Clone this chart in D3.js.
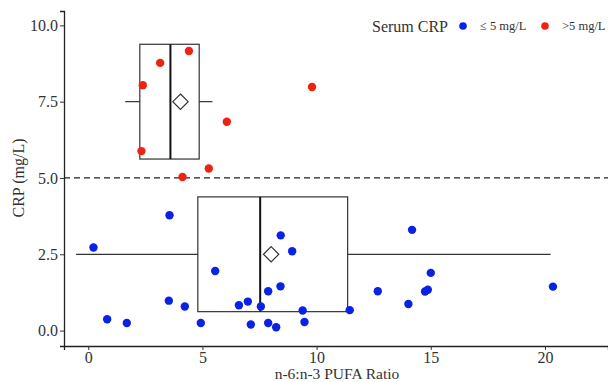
<!DOCTYPE html>
<html>
<head>
<meta charset="utf-8">
<script src="https://cdn.jsdelivr.net/npm/d3@7"></script>
<style>
  body { margin: 0; background: #fff; }
</style>
</head>
<body>
<div id="chart"></div>
<script>
// >5 mg/L group
const highRatio = [2.39, 3.15, 4.41, 2.33, 4.13, 5.28, 6.07, 9.80];
const highCRP   = [8.04, 8.77, 9.16, 5.88, 5.03, 5.31, 6.84, 7.98];

// <=5 mg/L group
const lowRatio = [0.23, 3.56, 0.83, 1.69, 3.53, 4.23, 4.93, 5.56, 6.60, 6.99,
                  7.12, 7.56, 7.88, 7.88, 8.23, 8.42, 8.43, 8.93, 9.39, 9.47,
                  11.45, 12.68, 14.18, 14.02, 14.75, 14.87, 15.00, 20.35];
const lowCRP   = [2.72, 3.78, 0.37, 0.25, 0.98, 0.79, 0.25, 1.95, 0.83, 0.95,
                  0.20, 0.79, 1.29, 0.25, 0.11, 1.45, 3.12, 2.60, 0.66, 0.28,
                  0.67, 1.29, 3.30, 0.87, 1.28, 1.34, 1.89, 1.44];

// box summaries: [whiskerLow, q1, median, q3, whiskerHigh, mean, yPos]
const highBox = [1.62, 2.26, 3.60, 4.86, 5.44, 4.04, 7.5];
const lowBox  = [-0.53, 4.80, 7.53, 11.36, 20.25, 8.01, 2.5];
const boxHalfHeight = 1.88;

const xTicks = [0, 5, 10, 15, 20];
const yTicks = [0, 2.5, 5, 7.5, 10];
const cutoff = 5;

const legendLabels = ["≤ 5 mg/L", ">5 mg/L"];
const colors = ["#0a22e6", "#ee2211"];

const serif = '"Liberation Serif", "DejaVu Serif", "Times New Roman", serif';
const width = 608, height = 382;
const margin = { left: 64, right: 0, top: 11, bottom: 36 };

const svg = d3.select("#chart").append("svg")
  .attr("width", width)
  .attr("height", height)
  .style("font-family", serif);

const x = d3.scaleLinear()
  .domain([-1.06, 22.76])
  .range([margin.left, width - margin.right]);

const y = d3.scaleLinear()
  .domain([-0.505, 10.47])
  .range([height - margin.bottom, margin.top]);

// axes
const xAxis = svg.append("g")
  .attr("transform", "translate(0," + (height - margin.bottom) + ")")
  .call(d3.axisBottom(x).tickValues(xTicks).tickSize(4).tickPadding(2));

const yAxis = svg.append("g")
  .attr("transform", "translate(" + margin.left + ",0)")
  .call(d3.axisLeft(y).tickValues(yTicks).tickSize(4).tickPadding(2).tickFormat(d3.format(".1f")));

[xAxis, yAxis].forEach(a => {
  a.attr("font-family", serif).attr("font-size", 16);
  a.selectAll("text").attr("fill", "#333");
  a.select(".domain").attr("stroke", "#222").attr("stroke-width", 1.3);
  a.selectAll(".tick line").attr("stroke", "#333");
});

// cutoff dashed line
svg.append("line")
  .attr("x1", x.range()[0]).attr("x2", x.range()[1])
  .attr("y1", y(cutoff)).attr("y2", y(cutoff))
  .attr("stroke", "#222")
  .attr("stroke-width", 1.2)
  .attr("stroke-dasharray", "6,4");

// horizontal box plots
function drawBox(b) {
  const g = svg.append("g").attr("stroke", "#333").attr("fill", "none").attr("stroke-width", 1.2);
  const yc = y(b[6]);
  g.append("line").attr("x1", x(b[0])).attr("x2", x(b[1])).attr("y1", yc).attr("y2", yc);
  g.append("line").attr("x1", x(b[3])).attr("x2", x(b[4])).attr("y1", yc).attr("y2", yc);
  g.append("rect")
    .attr("x", x(b[1]))
    .attr("y", y(b[6] + boxHalfHeight))
    .attr("width", x(b[3]) - x(b[1]))
    .attr("height", y(b[6] - boxHalfHeight) - y(b[6] + boxHalfHeight));
  g.append("line")
    .attr("x1", x(b[2])).attr("x2", x(b[2]))
    .attr("y1", y(b[6] + boxHalfHeight)).attr("y2", y(b[6] - boxHalfHeight))
    .attr("stroke", "#111").attr("stroke-width", 2);
  g.append("path")
    .attr("d", d3.symbol(d3.symbolDiamond2, 150)())
    .attr("transform", "translate(" + x(b[5]) + "," + yc + ")")
    .attr("fill", "#fff").attr("stroke", "#333");
}
drawBox(highBox);
drawBox(lowBox);

// points
function drawPoints(xs, ys, color) {
  svg.append("g").selectAll("circle")
    .data(xs.map((v, i) => [v, ys[i]]))
    .enter().append("circle")
    .attr("cx", d => x(d[0]))
    .attr("cy", d => y(d[1]))
    .attr("r", 4.2)
    .attr("fill", color);
}
drawPoints(lowRatio, lowCRP, colors[0]);
drawPoints(highRatio, highCRP, colors[1]);

// axis titles
svg.append("text")
  .attr("x", 337).attr("y", 379)
  .attr("text-anchor", "middle")
  .attr("fill", "#333")
  .style("font-size", "15.5px")
  .text("n-6:n-3 PUFA Ratio");

svg.append("text")
  .attr("transform", "translate(24," + 178 + ") rotate(-90)")
  .attr("text-anchor", "middle")
  .attr("fill", "#333")
  .style("font-size", "16px")
  .text("CRP (mg/L)");

// legend
const legend = svg.append("g");
legend.append("text")
  .attr("x", 372).attr("y", 32)
  .attr("fill", "#333")
  .style("font-size", "16px")
  .text("Serum CRP");
const legendX = [463, 545];
legendLabels.forEach((lab, i) => {
  legend.append("circle").attr("cx", legendX[i]).attr("cy", 26).attr("r", 3.8).attr("fill", colors[i]);
  legend.append("text")
    .attr("x", legendX[i] + 17).attr("y", 30)
    .attr("fill", "#333")
    .style("font-size", "12.5px")
    .text(lab);
});
</script>
</body>
</html>
